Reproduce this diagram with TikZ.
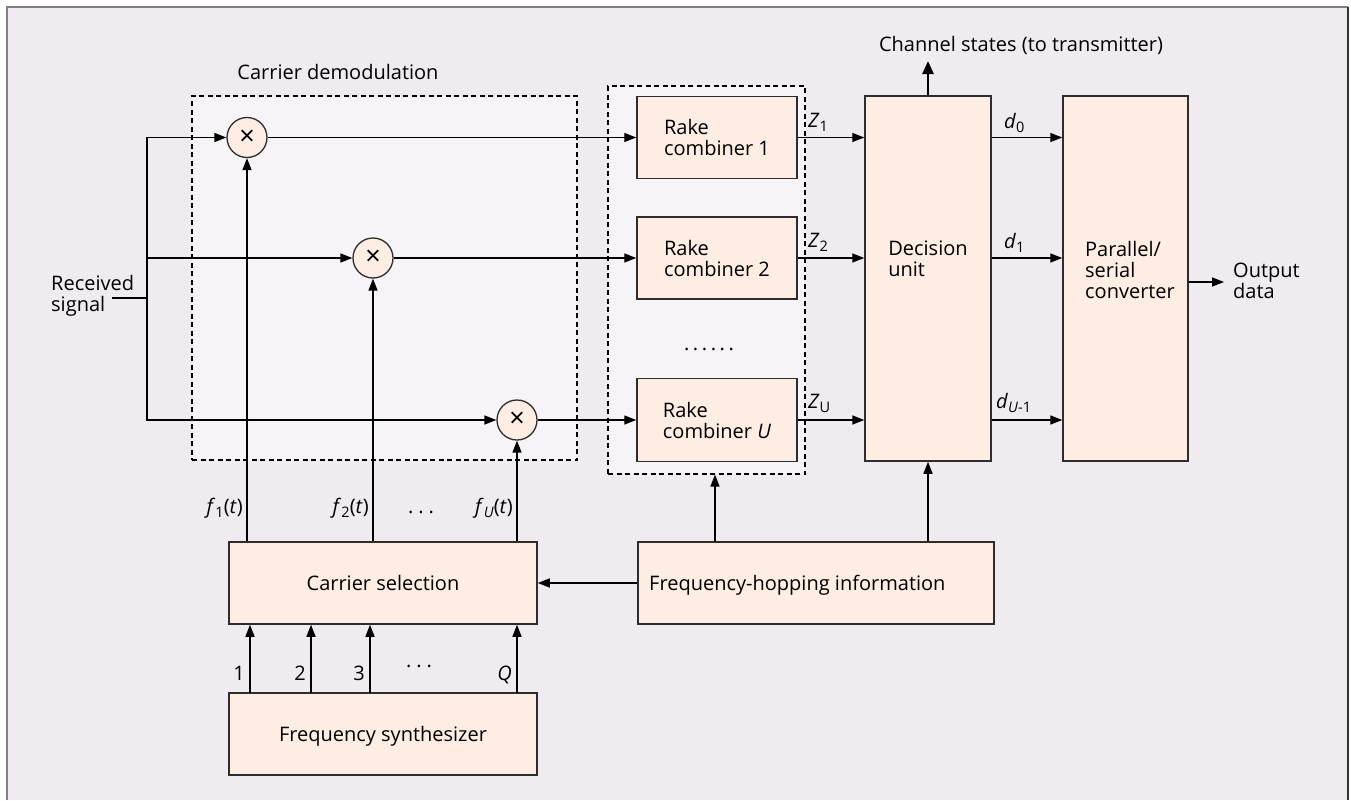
\documentclass[tikz,border=0pt]{standalone}
\usepackage{fontspec}
\setmainfont{Open Sans}
\usetikzlibrary{arrows.meta,calc}
\definecolor{bgc}{RGB}{239,235,241}
\definecolor{dashfill}{RGB}{247,244,247}
\definecolor{boxfill}{RGB}{253,237,227}
\definecolor{boxline}{RGB}{45,45,45}
\definecolor{framegray}{RGB}{128,128,128}
\newcommand\spdots{.\hspace{5pt}.\hspace{5pt}.}
\newcommand\cdotsrow{\textperiodcentered\hspace{5pt}\textperiodcentered\hspace{5pt}\textperiodcentered}
\newcommand\sixdots{.\hspace{3.6pt}.\hspace{3.6pt}.\hspace{3.6pt}.\hspace{3.6pt}.\hspace{3.6pt}.}
\newcommand\lsub[1]{\raisebox{-4pt}{\fontsize{14.5}{14.5}\selectfont #1}}
\begin{document}
\begin{tikzpicture}[x=1pt,y=-1pt,font=\fontsize{20}{21}\selectfont,
  blk/.style={draw=boxline,fill=boxfill,line width=1.5pt,inner sep=0pt},
  mix/.style={circle,draw=boxline,fill=boxfill,line width=1.3pt,minimum size=40pt,inner sep=0pt,font=\fontsize{27}{27}\selectfont},
  grp/.style={draw=black,fill=dashfill,dash pattern=on 5pt off 3.5pt,line width=1.2pt,inner sep=0pt},
  wire/.style={line width=1.4pt},
  conn/.style={line width=1.4pt,-{Triangle[length=12pt,width=9pt]}},
  bigconn/.style={line width=2.7pt,-{Triangle[length=13pt,width=11pt]}},
  lbl/.style={inner sep=0pt},
]
\useasboundingbox (0,0) rectangle (1351,800);
\fill[bgc] (7,7) rectangle (1348,800);
\draw[framegray,line width=2pt] (7,800) -- (7,7) -- (1348,7);
\draw[black!80,line width=2pt] (1348,7) -- (1348,800);

% groups
\node[grp,minimum width=385pt,minimum height=364pt] (cdm) at (384.5,278) {};
\node[grp,minimum width=197pt,minimum height=388pt] (rg) at (706.5,280) {};

% mixers
\node[mix] (m1) at (247,137.5) {×};
\node[mix] (m2) at (373,258) {×};
\node[mix] (m3) at (517,420) {×};

% rake combiners
\node[blk,minimum width=160pt,minimum height=82pt,align=left] (r1) at (717,137.5) {Rake\\combiner 1};
\node[blk,minimum width=160pt,minimum height=82pt,align=left] (r2) at (717,258) {Rake\\combiner 2};
\node[blk,minimum width=160pt,minimum height=83pt,align=left] (r3) at (717,420) {Rake\\combiner \textit{U}};
\node[lbl] (rdots) at (709,349) {\sixdots};

% decision unit and P/S
\node[blk,minimum width=126pt,minimum height=365pt] (du) at (928,278.5) {};
\node[lbl,align=left] (dut) at (928,259) {Decision\\unit};
\node[blk,minimum width=125pt,minimum height=365pt] (ps) at (1125.5,278.5) {};
\node[lbl,align=left] (pst) at (1130,270) {Parallel/\\serial\\converter};

% bottom boxes
\node[blk,minimum width=308pt,minimum height=82pt] (cs) at (383,583) {Carrier selection};
\node[blk,minimum width=308pt,minimum height=82pt,text depth=0pt] (fs) at (383,734) {Frequency synthesizer};
\node[blk,minimum width=356pt,minimum height=82pt] (fh) at (816,583) {};
\node[lbl,anchor=west,text depth=0pt] (fht) at (649,583) {Frequency-hopping information};

% texts
\node[lbl,anchor=base] (cdmt) at (338,79) {Carrier demodulation};
\node[lbl,anchor=base] (chst) at (1021,52) {Channel states (to transmitter)};
\node[lbl,anchor=west,align=left] (rs) at (51,296) {Received\\signal};
\node[lbl,anchor=west,align=left] (outt) at (1233,281) {Output\\data};

\node[lbl,anchor=base west] (z1) at (808,127) {\textit{Z}\lsub{1}};
\node[lbl,anchor=base west] (z2) at (808,247) {\textit{Z}\lsub{2}};
\node[lbl,anchor=base west] (zu) at (808,408) {\textit{Z}\lsub{U}};
\node[lbl,anchor=base west] (d0) at (1004,128) {\textit{d}\lsub{0}};
\node[lbl,anchor=base west] (d1) at (1004,248) {\textit{d}\lsub{1}};
\node[lbl,anchor=base west] (du1) at (996,408) {\textit{d}\lsub{\textit{U}-1}};

\node[lbl,anchor=base east] (f1) at (243,513) {\textit{f}\lsub{1}(\textit{t})};
\node[lbl,anchor=base east] (f2) at (369,513) {\textit{f}\lsub{2}(\textit{t})};
\node[lbl,anchor=base east] (fu) at (513,513) {\textit{f}\lsub{\textit{U}}(\textit{t})};
\node[lbl,anchor=base] (fdots) at (421,513) {\spdots};

\node[lbl,anchor=base east] (n1) at (245,680) {1};
\node[lbl,anchor=base east] (n2) at (306,680) {2};
\node[lbl,anchor=base east] (n3) at (365,680) {3};
\node[lbl,anchor=base east] (nq) at (512,680) {\textit{Q}};
\node[lbl] (ndots) at (419,669) {\cdotsrow};

% input wiring
\coordinate (rsin) at (112,298);
\coordinate (jn) at (147,298);
\draw[wire] (rsin) -- (jn);
\draw[conn] (jn) |- (m1);
\draw[conn] (jn) |- (m2);
\draw[conn] (jn) |- (m3);

% mixers to rake combiners
\draw[conn] (m1) -- (r1);
\draw[conn] (m2) -- (r2);
\draw[conn] (m3) -- (r3);

% carriers to mixers
\draw[conn] (cs.north -| m1) -- (m1);
\draw[conn] (cs.north -| m2) -- (m2);
\draw[conn] (cs.north -| m3) -- (m3);

% rake to decision
\draw[conn] (r1) -- (r1 -| du.west);
\draw[conn] (r2) -- (r2 -| du.west);
\draw[conn] (r3) -- (r3 -| du.west);

% decision to P/S
\draw[conn] (r1 -| du.east) -- (r1 -| ps.west);
\draw[conn] (r2 -| du.east) -- (r2 -| ps.west);
\draw[conn] (r3 -| du.east) -- (r3 -| ps.west);

% output
\coordinate (outend) at (1224,282);
\draw[conn] (ps.east |- outend) -- (outend);

% channel states
\coordinate (chs) at (928,61);
\draw[bigconn] (du.north) -- (chs);

% frequency hopping info
\draw[conn] (fh.west) -- (cs.east);
\coordinate (fhr) at (715,542);
\draw[conn] (fhr) -- (fhr |- rg.south);
\draw[conn] (fh.north -| du) -- (du.south);

% synthesizer outputs
\foreach \x/\n in {250/1,311/2,370/3,517/q} {
  \coordinate (s\n) at (\x,693);
  \draw[conn] (s\n) -- (s\n |- cs.south);
}
\end{tikzpicture}
\end{document}
